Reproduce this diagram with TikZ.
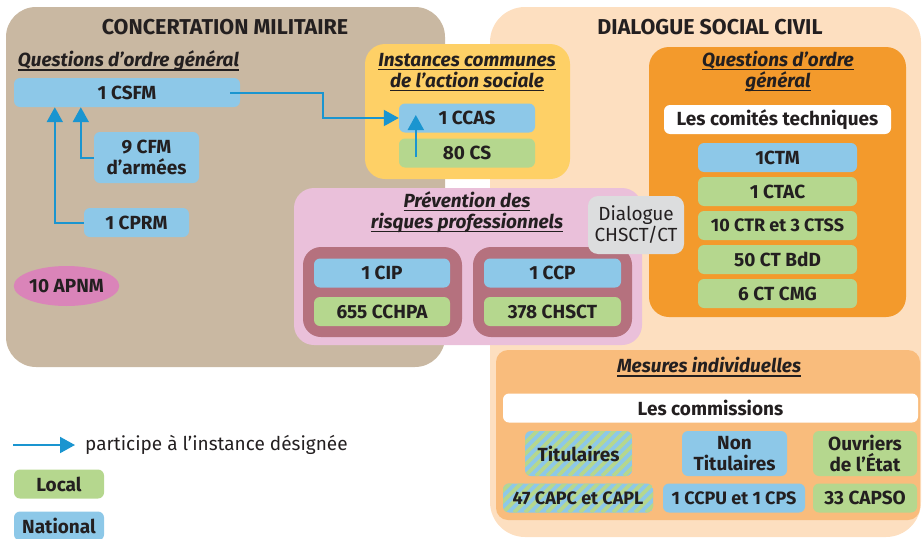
\documentclass[tikz,border=0pt]{standalone}
\usepackage{fontspec}
\setmainfont{Fira Sans}
\usepackage{tikz}
\usetikzlibrary{arrows.meta,calc,positioning,shapes.geometric}
\definecolor{ink}{RGB}{35,31,32}
\definecolor{militbg}{RGB}{201,184,162}
\definecolor{civilbg}{RGB}{253,223,192}
\definecolor{actsoc}{RGB}{254,208,102}
\definecolor{natblue}{RGB}{141,200,232}
\definecolor{locgreen}{RGB}{181,215,142}
\definecolor{prevpink}{RGB}{234,192,218}
\definecolor{mauve}{RGB}{181,113,126}
\definecolor{ctorange}{RGB}{243,154,44}
\definecolor{mesorange}{RGB}{249,188,124}
\definecolor{apnmpink}{RGB}{218,132,185}
\definecolor{dialgrey}{RGB}{220,221,222}
\definecolor{arrowblue}{RGB}{26,149,208}
\newcommand\souligne[1]{\setbox0\hbox{#1}\rlap{\color{ink}\rule[-4pt]{\wd0}{1.4pt}}\box0}
\tikzset{
  box/.style={rounded corners=6pt, minimum height=29pt, inner sep=0pt, font=\bfseries, text=ink, align=center},
  natbox/.style={box, fill=natblue},
  locbox/.style={box, fill=locgreen},
  whitebox/.style={box, fill=white},
  stripebox/.style={box, path picture={
      \fill[natblue] (path picture bounding box.south west) rectangle (path picture bounding box.north east);
      \foreach \k in {-8,...,16}
        \draw[locgreen, line width=3.8pt] ([xshift=\k*11pt]path picture bounding box.south west) -- ++(60pt,60pt);}},
  panel/.style={rounded corners=30pt, inner sep=0pt},
  heading/.style={font=\bfseries\itshape, align=center, text=ink},
  bigtitle/.style={font=\fontsize{21.5}{24}\selectfont\bfseries, text=ink},
  arr/.style={draw=arrowblue, line width=2pt, -{Triangle[length=15pt,width=16pt]}},
}
\begin{document}
\fontsize{19}{21}\selectfont
\begin{tikzpicture}[x=1pt,y=-1pt]
\useasboundingbox (0,0) rectangle (923,538);
% panneaux de fond
\node[panel, fill=militbg, minimum width=439pt, minimum height=360pt] (milit) at (225.5,187) {};
\node[panel, rounded corners=35pt, fill=civilbg, minimum width=431pt, minimum height=530pt] (civil) at (705.5,272) {};
\node[bigtitle] (miltitle) at (225,27) {CONCERTATION MILITAIRE};
\node[bigtitle] (civtitle) at (710,27) {DIALOGUE SOCIAL CIVIL};
% concertation militaire
\node[heading] (milgen) at (128.5,61) {\souligne{Questions d’ordre général}};
\node[natbox, minimum width=226pt] (CSFM) at (127,92.5) {1 CSFM};
\node[natbox, minimum width=105pt, minimum height=51pt] (CFM) at (146.5,157.5) {9 CFM\\d’armées};
\node[natbox, minimum width=105pt] (CPRM) at (136.5,222.5) {1 CPRM};
\node[ellipse, fill=apnmpink, inner sep=0pt, minimum width=105pt, minimum height=40pt, font=\bfseries, text=ink] (APNM) at (66.5,286) {10 APNM};
% action sociale
\node[panel, rounded corners=20pt, fill=actsoc, minimum width=205pt, minimum height=135pt] (actsoc) at (467.5,111.5) {};
\node[heading] (acttitle) at (467,72) {\souligne{Instances communes}\\\souligne{de l’action sociale}};
\node[natbox, minimum width=136pt] (CCAS) at (467,118) {1 CCAS};
\node[locbox, minimum width=136pt] (CS) at (467,153) {80 CS};
% prevention
\node[panel, rounded corners=20pt, fill=prevpink, minimum width=348pt, minimum height=157pt] (prev) at (468,266.5) {};
\node[heading] (prevtitle) at (467,212) {\souligne{Prévention des}\\\souligne{risques professionnels}};
\node[panel, rounded corners=18pt, fill=mauve, minimum width=159pt, minimum height=90pt] (milprev) at (382.5,292) {};
\node[panel, rounded corners=18pt, fill=mauve, minimum width=159pt, minimum height=90pt] (civprev) at (552.5,292) {};
\node[natbox, minimum width=136pt] (CIP) at (382,273) {1 CIP};
\node[locbox, minimum width=136pt] (CCHPA) at (382,311.5) {655 CCHPA};
\node[natbox, minimum width=137pt] (CCP) at (552.5,273) {1 CCP};
\node[locbox, minimum width=137pt] (CHSCT) at (552.5,311.5) {378 CHSCT};
% comites techniques
\node[panel, rounded corners=20pt, fill=ctorange, minimum width=257pt, minimum height=270pt] (ctpanel) at (777.5,182) {};
\node[heading] (civgen) at (778,71) {\souligne{Questions d’ordre}\\\souligne{général}};
\node[whitebox, minimum width=227pt] (comites) at (777.5,119.5) {Les comités techniques};
\node[natbox, minimum width=159pt] (CTM) at (777.5,157.5) {1CTM};
\node[locbox, minimum width=159pt] (CTAC) at (777.5,191.5) {1 CTAC};
\node[locbox, minimum width=159pt, font=\fontsize{18}{21}\selectfont\bfseries] (CTR) at (777.5,225.5) {10 CTR et 3 CTSS};
\node[locbox, minimum width=159pt] (BdD) at (777.5,259.5) {50 CT BdD};
\node[locbox, minimum width=159pt] (CMG) at (777.5,293.5) {6 CT CMG};
\node[box, fill=dialgrey, rounded corners=10pt, font=\mdseries, minimum width=96pt, minimum height=58pt] (dialogue) at (636,225) {Dialogue\\CHSCT/CT};
% mesures individuelles
\node[panel, rounded corners=12pt, fill=mesorange, minimum width=424pt, minimum height=170pt] (mesures) at (708,435) {};
\node[heading] (mestitle) at (709,367) {\souligne{Mesures individuelles}};
\node[whitebox, minimum width=415pt] (commissions) at (710.5,408) {Les commissions};
\node[stripebox, minimum width=107pt, minimum height=45pt] (tit) at (578.5,453.5) {Titulaires};
\node[natbox, minimum width=105pt, minimum height=45pt] (nontit) at (734.5,453.5) {Non\\Titulaires};
\node[locbox, minimum width=104pt, minimum height=45pt] (ouvriers) at (865,453.5) {Ouvriers\\de l’État};
\node[stripebox, minimum width=150pt, font=\fontsize{18}{21}\selectfont\bfseries] (CAPC) at (578,498) {47 CAPC et CAPL};
\node[natbox, minimum width=142pt, font=\fontsize{18}{21}\selectfont\bfseries] (CCPU) at (734,498) {1 CCPU et 1 CPS};
\node[locbox, minimum width=104pt] (CAPSO) at (865,498) {33 CAPSO};
% fleches
\draw[arr] (CPRM.west) -| ([xshift=41pt]CSFM.south west);
\draw[arr] (CFM.west) -| ([xshift=67pt]CSFM.south west);
\draw[arr] ([xshift=-10pt]CSFM.east) -- ++(93,0) |- (CCAS.west);
\draw[arr] ([xshift=17pt,yshift=-4pt]CS.west) -- ([xshift=17pt,yshift=3pt]CCAS.west);
% legende
\coordinate (legstart) at (13,445);
\node[anchor=west, text=ink, inner sep=0pt] (legtext) at (85,445) {participe à l’instance désignée};
\draw[arr] (legstart) -- ([xshift=-10pt]legtext.west);
\node[locbox, minimum width=90pt] (local) at (59,484) {Local};
\node[natbox, minimum width=90pt] (national) at (59,526) {National};
\end{tikzpicture}
\end{document}
